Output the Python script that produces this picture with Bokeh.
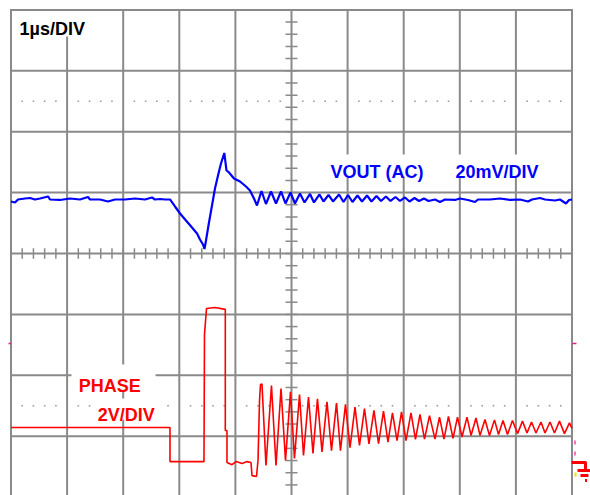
from bokeh.plotting import figure
from bokeh.models import Range1d, Label
from bokeh.embed import file_html
from bokeh.resources import INLINE

# ---------------- scope settings ----------------
time_per_div_us = 1.0          # 1µs/DIV
vout_mv_per_div = 20.0         # 20mV/DIV
phase_v_per_div = 2.0          # 2V/DIV
vout_position_div = 0.887      # VOUT (AC) channel position
phase_ground_div = -3.432      # PHASE ground marker position
n_hdiv = 10
n_vdiv = 8

# ---------------- VOUT (AC) trace: time (µs), mV ----------------
vout_t = [0.0, 0.071, 0.125, 0.250, 0.339, 0.428, 0.517, 0.660, 0.695, 0.873,
          1.052, 1.230, 1.373, 1.408, 1.586, 1.729, 1.854, 2.032, 2.210, 2.389,
          2.513, 2.567, 2.656, 2.745, 2.834,
          2.923, 3.013, 3.119, 3.226, 3.316, 3.369, 3.422, 3.449,
          3.476, 3.529, 3.583, 3.636, 3.690, 3.743, 3.802,
          3.841, 3.886, 3.975, 4.082, 4.189, 4.260, 4.331, 4.385,
          4.465, 4.545, 4.635, 4.724, 4.813, 4.893, 4.982, 5.062, 5.151, 5.232,
          5.330, 5.401, 5.499, 5.570, 5.660, 5.740, 5.847, 5.927, 6.007, 6.087,
          6.176, 6.257, 6.346, 6.426, 6.515, 6.595, 6.684, 6.765, 6.854, 6.934,
          7.023, 7.103, 7.193, 7.273, 7.362, 7.442,
          7.558, 7.647, 7.736, 7.914, 8.004, 8.146, 8.271, 8.324, 8.538, 8.717,
          8.895, 9.073, 9.216, 9.287, 9.430, 9.519, 9.697, 9.786, 9.893, 9.947, 10.0]
vout_mv = [-0.66, -0.99, 0.0, 0.33, 0.49, 0.0, 0.33, 0.99, 0.0, -0.16,
           0.33, 0.0, 0.82, 0.0, 0.0, -0.66, 0.0, 0.0, 0.33, 0.0,
           0.66, 0.0, 0.16, 0.0, 0.0,
           -2.30, -4.60, -6.90, -9.20, -11.17, -13.14, -14.78, -16.26,
           -13.47, -7.55, -1.97, 3.61, 7.88, 11.82, 15.27,
           9.52, 8.87, 6.90, 5.91, 4.27, 2.96, 0.33, -1.97,
           2.79, -1.48, 2.63, -1.31, 2.63, -1.31, 2.30, -1.31, 1.97, -0.99,
           1.81, -0.99, 1.64, -0.66, 1.48, -0.66, 1.64, -0.82, 1.48, -0.82,
           1.31, -0.66, 1.31, -0.66, 1.15, -0.49, 0.99, -0.49, 0.82, -0.49,
           0.66, -0.66, 0.49, -0.49, 0.33, -0.49,
           0.0, -0.82, 0.0, -0.16, 0.33, -0.16, -0.82, 0.0, 0.0, 0.33,
           -0.16, 0.0, -0.66, 0.0, 0.49, 0.0, -0.33, 0.0, -1.31, -0.16, 0.0]

# ---------------- PHASE trace: time (µs), V ----------------
phase_t = [0.0, 2.834, 2.834, 3.440, 3.449, 3.485, 3.636, 3.820, 3.820, 3.850, 3.850,
           3.939, 4.011, 4.118, 4.207, 4.278, 4.296, 4.376, 4.403, 4.430, 4.447,
           4.474, 4.545, 4.643, 4.724, 4.813, 4.893, 4.982, 5.053, 5.143, 5.214,
           5.303, 5.383, 5.463, 5.544, 5.633, 5.713, 5.802, 5.873, 5.962, 6.043,
           6.132, 6.212, 6.301, 6.381, 6.470, 6.551, 6.640, 6.720, 6.800, 6.881,
           6.961, 7.041, 7.130, 7.210, 7.290, 7.371, 7.460, 7.558, 7.638, 7.718,
           7.798, 7.879, 7.959, 8.039, 8.128, 8.200, 8.289, 8.360, 8.449, 8.529,
           8.618, 8.690, 8.770, 8.850, 8.939, 9.029, 9.118, 9.198, 9.278, 9.358,
           9.447, 9.519, 9.608, 9.688, 9.777, 9.866, 9.955, 10.0]
phase_v = [1.15, 1.15, 0.03, 0.03, 4.20, 5.06, 5.09, 5.03, 1.05, 1.05, 0.0,
           -0.07, 0.03, -0.03, 0.03, 0.0, -0.43, -0.46, 0.07, 2.04, 2.56,
           2.58, -0.10, 2.53, -0.10, 2.43, 0.07, 2.32, 0.13, 2.23, 0.23,
           2.15, 0.30, 2.09, 0.35, 1.99, 0.39, 1.95, 0.39, 1.91, 0.49,
           1.82, 0.56, 1.77, 0.61, 1.71, 0.62, 1.69, 0.67, 1.63, 0.72,
           1.66, 0.72, 1.63, 0.76, 1.58, 0.77, 1.54, 0.77, 1.49, 0.77,
           1.51, 0.79, 1.49, 0.84, 1.49, 0.89, 1.46, 0.89, 1.41, 0.89,
           1.40, 0.92, 1.38, 0.92, 1.38, 0.95, 1.36, 0.97, 1.33, 0.97,
           1.33, 0.97, 1.33, 0.97, 1.36, 0.95, 1.30, 1.12]

# ---------------- labels ----------------
timebase_label = "1µs/DIV"
vout_name = "VOUT (AC)"
vout_scale_label = "20mV/DIV"
phase_name = "PHASE"
phase_scale_label = "2V/DIV"

# ---------------- figure ----------------
PX_X, PX_Y = 56.1, 60.9        # pixels per division
W, H = 590, 495


def sx(px):
    return (px - 291.0) / PX_X


def sy(py):
    return (253.0 - py) / PX_Y


p = figure(width=W, height=H,
           x_range=Range1d(sx(0), sx(W)), y_range=Range1d(sy(H), sy(0)),
           output_backend="svg", toolbar_location=None,
           x_axis_location=None, y_axis_location=None,
           min_border=0, outline_line_color=None,
           background_fill_color="white", border_fill_color="white")
p.grid.visible = False

GRID = "#8a8a8a"
half_h = n_hdiv / 2
half_v = n_vdiv / 2

# graticule
vx = [i - half_h for i in range(n_hdiv + 1)]
p.segment(x0=vx, y0=[-half_v] * len(vx), x1=vx, y1=[half_v] * len(vx),
          line_color=GRID, line_width=2)
hy = [j - half_v for j in range(n_vdiv + 1)]
p.segment(x0=[-half_h] * len(hy), y0=hy, x1=[half_h] * len(hy), y1=hy,
          line_color=GRID, line_width=2, line_cap="square")

# center-line minor ticks
tx = [i * 0.2 for i in range(-25, 26)]
p.segment(x0=tx, y0=[-0.085] * len(tx), x1=tx, y1=[0.085] * len(tx),
          line_color=GRID, line_width=1.5)
ty = [j * 0.2 for j in range(-20, 21)]
p.segment(x0=[-0.107] * len(ty), y0=ty, x1=[0.107] * len(ty), y1=ty,
          line_color=GRID, line_width=1.5)

# dotted lines
dx = [i * 0.2 for i in range(-25, 26) if i % 5 != 0]
for yy in (2.5, -2.5):
    p.scatter(dx, [yy] * len(dx), marker="square", size=1.6,
              fill_color="#9a9a9a", line_color=None)

# white text backgrounds
boxes = [(13, 90, 10.5, 36), (326, 429, 154, 176), (451, 543, 154, 176),
         (71, 155, 364, 391), (92, 160, 398, 419)]
p.quad(left=[sx(b[0]) for b in boxes], right=[sx(b[1]) for b in boxes],
       top=[sy(b[2]) for b in boxes], bottom=[sy(b[3]) for b in boxes],
       fill_color="white", line_color=None)

# traces
vout_x = [t / time_per_div_us - half_h for t in vout_t]
vout_y = [vout_position_div + mv / vout_mv_per_div for mv in vout_mv]
p.line(vout_x, vout_y, line_color="#0000ff", line_width=2.2)

phase_x = [t / time_per_div_us - half_h for t in phase_t]
phase_y = [phase_ground_div + v / phase_v_per_div for v in phase_v]
p.line(phase_x, phase_y, line_color="#ff0000", line_width=1.6)

# channel markers (right / left edges)
g0 = phase_ground_div
gpx = 1.0 / PX_Y
p.segment(x0=[sx(571), sx(585), sx(577), sx(580), sx(584.5)],
          y0=[g0, g0, g0 - 8 * gpx, g0 - 13 * gpx, g0 - 18 * gpx],
          x1=[sx(586), sx(585), sx(590), sx(588), sx(586.5)],
          y1=[g0, g0 - 8 * gpx, g0 - 8 * gpx, g0 - 13 * gpx, g0 - 18 * gpx],
          line_color="#ff0000", line_width=3)
p.segment(x0=[sx(572), sx(8)], y0=[sy(343), sy(343)],
          x1=[sx(576), sx(10.5)], y1=[sy(343), sy(343)],
          line_color="#e0208a", line_width=1.5)
p.segment(x0=[sx(574.5), sx(574.5)], y0=[sy(440), sy(451)],
          x1=[sx(574.5), sx(574.5)], y1=[sy(444), sy(455)],
          line_color="#ff70c8", line_width=2)
p.segment(x0=[sx(575)], y0=[sy(472)], x1=[sx(575)], y1=[sy(476)],
          line_color="#f0e000", line_width=2)

# texts
FONT = "Liberation Sans"
texts = [(timebase_label, 19, 28.5, "#000000"),
         (vout_name, 330, 171.7, "#0000ff"),
         (vout_scale_label, 455, 171.7, "#0000ff"),
         (phase_name, 78.3, 385, "#ff0000"),
         (phase_scale_label, 97.3, 414, "#ff0000")]
for txt, lx, ly, col in texts:
    p.add_layout(Label(x=sx(lx), y=sy(ly), text=txt, text_font=FONT,
                       text_font_style="bold", text_font_size="18px",
                       text_color=col, text_align="left",
                       text_baseline="alphabetic"))

open("out.html", "w").write(file_html(p, INLINE))
